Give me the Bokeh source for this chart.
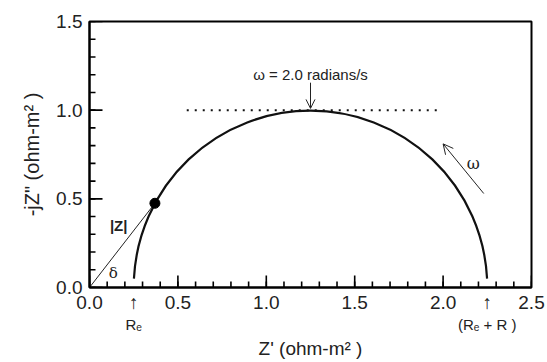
import math
from bokeh.plotting import figure
from bokeh.models import Label, Arrow, OpenHead, Range1d, FixedTicker, PrintfTickFormatter, LinearAxis
from bokeh.embed import file_html
from bokeh.resources import INLINE

# --- data ---
Re = 0.25                 # electrolyte resistance
R = 2.0                   # charge-transfer resistance
y_end = 0.05              # ends of drawn arc above axis
z_point_x = [0.37]
z_point_y = [0.475]
dotted_x = [0.55, 1.97]
dotted_y = [1.0, 1.0]
x_ticks = [0.0, 0.5, 1.0, 1.5, 2.0, 2.5]
y_ticks = [0.0, 0.5, 1.0, 1.5]
x_minor = [round(i * 0.1, 1) for i in range(26)]
y_minor = [round(i * 0.1, 1) for i in range(16)]
marker_labels = ["R\u2091", "(R\u2091 + R )"]
omega_arrow = (2.23, 0.53, 2.0, 0.81)

FONT = "Liberation Sans"
INK = "#222222"
FW, FH = 442, 266

p = figure(frame_width=FW, frame_height=FH, output_backend="svg", toolbar_location=None,
           x_range=Range1d(0, 2.5), y_range=Range1d(0, 1.5),
           min_border_left=89, min_border_right=16, min_border_top=21, min_border_bottom=0)
p.grid.visible = False
p.background_fill_color = "white"
p.border_fill_color = "white"
p.outline_line_color = "black"
p.outline_line_width = 2

markers = [Re, Re + R]
xt_all = x_ticks + markers
overrides = {m: "\u2191" for m in markers}

for ax, ticks in ((p.xaxis[0], xt_all), (p.yaxis[0], y_ticks)):
    ax.ticker = FixedTicker(ticks=ticks)
    ax.formatter = PrintfTickFormatter(format="%.1f")
    ax.major_tick_in = 0
    ax.major_tick_out = 0
    ax.minor_tick_in = 0
    ax.minor_tick_out = 0
    ax.axis_line_width = 2
    ax.major_label_text_font = FONT
    ax.major_label_text_font_size = "19px"
    ax.major_label_text_color = INK
    ax.axis_label_text_font = FONT
    ax.axis_label_text_font_size = "20px"
    ax.axis_label_text_font_style = "normal"
    ax.axis_label_text_color = INK

p.xaxis[0].major_label_overrides = overrides
p.xaxis[0].major_label_standoff = 4
p.yaxis[0].major_label_standoff = 7
p.yaxis[0].axis_label = "-jZ\" (ohm-m\u00b2 )"
p.yaxis[0].axis_label_standoff = 10

# second axis below carrying the Re / Re+R labels and the x title
ax2 = LinearAxis(ticker=FixedTicker(ticks=markers),
                 major_label_overrides={m: t for m, t in zip(markers, marker_labels)},
                 axis_line_color=None, major_tick_line_color=None, minor_tick_line_color=None,
                 major_tick_in=0, major_tick_out=0, minor_tick_in=0, minor_tick_out=0,
                 major_label_standoff=0, major_label_text_font=FONT,
                 major_label_text_font_size="15px", major_label_text_color=INK,
                 axis_label="Z' (ohm-m\u00b2 )", axis_label_text_font=FONT,
                 axis_label_text_font_size="19px", axis_label_text_font_style="normal",
                 axis_label_text_color=INK, axis_label_standoff=2)
p.add_layout(ax2, "below")

# semicircle
cx = Re + R / 2
rad = R / 2
a0 = math.asin(y_end / rad)
p.arc(x=[cx], y=[0], radius=rad, start_angle=a0, end_angle=math.pi - a0,
      line_color="#111111", line_width=2.2)

# dotted line
p.line(dotted_x, dotted_y, line_color="#111111", line_width=2, line_dash="2 6")

# |Z| line and point
p.line([0, z_point_x[0]], [0, z_point_y[0]], line_color=INK, line_width=1)
p.scatter(z_point_x, z_point_y, size=10, color="black")

# inward ticks as thin filled bars
ppu_x = FW / 2.5
ppu_y = FH / 1.5
tw = 1.6  # tick thickness, px
p.vbar(x=x_ticks, width=tw / ppu_x, bottom=0, top=12 / ppu_y,
       fill_color="black", line_color=None)
p.vbar(x=x_minor, width=tw / ppu_x, bottom=0, top=6 / ppu_y,
       fill_color="black", line_color=None)
p.hbar(y=y_ticks, height=tw / ppu_y, left=0, right=13 / ppu_x,
       fill_color="black", line_color=None)
p.hbar(y=y_minor, height=tw / ppu_y, left=0, right=6 / ppu_x,
       fill_color="black", line_color=None)

# labels
def lab(x, y, text, size="16px", style="normal", font=FONT):
    p.add_layout(Label(x=x, y=y, text=text, text_font=font, text_font_size=size,
                       text_align="center", text_baseline="middle", text_font_style=style,
                       text_color=INK))

lab(0.165, 0.35, "|Z|", size="15px", style="bold")
lab(0.135, 0.08, "\u03b4", size="15px", font="DejaVu Serif")
lab(1.25, 1.2, "\u03c9 = 2.0 radians/s", size="15px")
p.add_layout(Arrow(x_start=1.25, y_start=1.155, x_end=1.25, y_end=1.01,
                   line_width=1, line_color=INK,
                   end=OpenHead(size=9, line_width=1, line_color=INK)))
p.add_layout(Arrow(x_start=omega_arrow[0], y_start=omega_arrow[1], x_end=omega_arrow[2], y_end=omega_arrow[3],
                   line_width=1, line_color=INK,
                   end=OpenHead(size=10, line_width=1, line_color=INK)))
lab(2.17, 0.70, "\u03c9", size="16px", font="DejaVu Serif")

html = file_html(p, INLINE)
open("out.html", "w").write(html)
